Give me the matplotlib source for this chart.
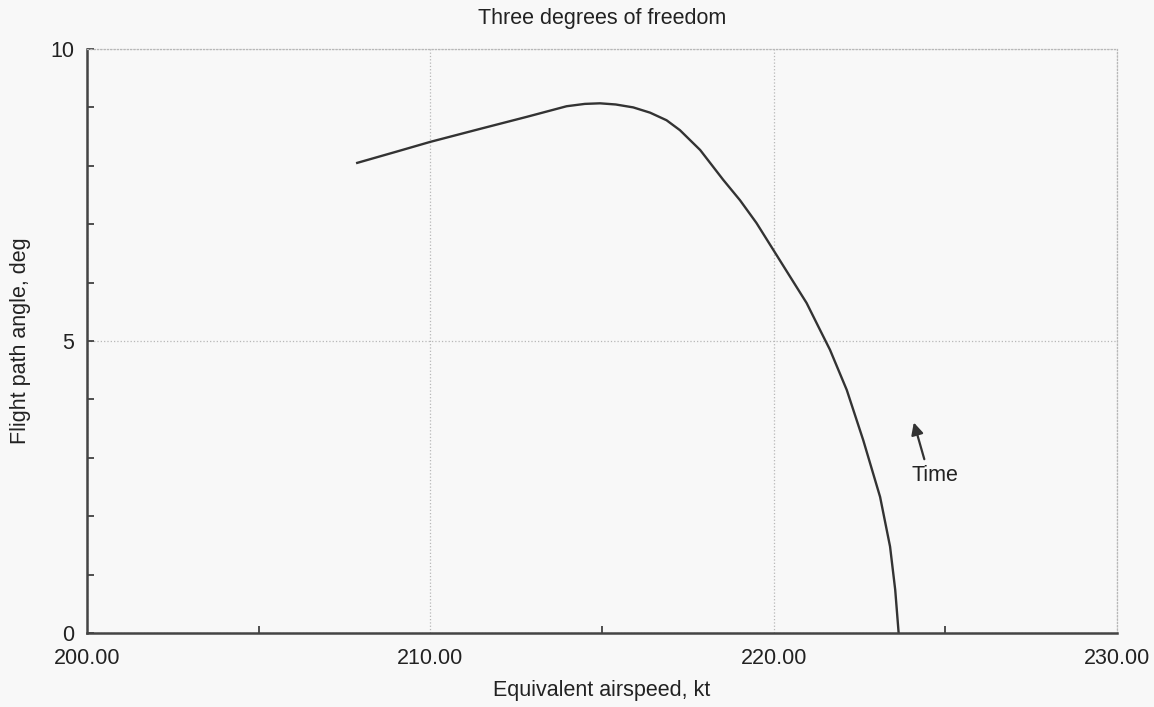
import numpy as np
import matplotlib
matplotlib.use("Agg")
import matplotlib.pyplot as plt
from matplotlib.ticker import MultipleLocator, FormatStrFormatter

plt.rcParams["font.family"] = ["Liberation Sans", "DejaVu Sans"]

# trajectory: equivalent airspeed (kt) vs flight path angle (deg)
airspeed = [207.87, 209.0, 210.0, 211.5, 212.82, 213.97, 214.5, 214.94, 215.4,
            215.91, 216.4, 216.88, 217.27, 217.86, 218.53, 219.02, 219.5,
            219.99, 220.48, 220.96, 221.35, 221.64, 222.13, 222.61, 223.1,
            223.39, 223.54, 223.64]
gamma = [8.05, 8.24, 8.41, 8.64, 8.84, 9.02, 9.06, 9.07, 9.05,
         9.0, 8.91, 8.78, 8.61, 8.27, 7.76, 7.41, 7.02,
         6.56, 6.1, 5.65, 5.19, 4.85, 4.16, 3.3, 2.33,
         1.48, 0.74, 0.0]

arrow_tail = (224.41, 2.93)
arrow_head = (224.06, 3.65)
time_label = (224.7, 2.69)

fig = plt.figure(figsize=(11.54, 7.07), dpi=100, facecolor="#f8f8f8")
ax = fig.add_axes([87 / 1154, 1 - 633 / 707, (1117 - 87) / 1154, (633 - 49) / 707])
ax.set_facecolor("#f8f8f8")

ax.plot(airspeed, gamma, color="#333333", lw=1.7, solid_joinstyle="round")

ax.annotate("", xy=arrow_head, xytext=arrow_tail,
            arrowprops=dict(arrowstyle="-|>", color="#333333", lw=1.6, mutation_scale=18))
ax.text(*time_label, "Time", fontsize=15.5, color="#222222", ha="center", va="center")

ax.set_xlim(200, 230)
ax.set_ylim(0, 10)
ax.xaxis.set_major_locator(MultipleLocator(10))
ax.xaxis.set_minor_locator(MultipleLocator(5))
ax.xaxis.set_major_formatter(FormatStrFormatter("%.2f"))
ax.yaxis.set_major_locator(MultipleLocator(5))
ax.yaxis.set_minor_locator(MultipleLocator(1))

ax.grid(True, which="major", ls=":", color="#b8b8b8", lw=0.9)
ax.tick_params(axis="x", which="major", length=0, pad=11, labelsize=15.5, labelcolor="#222222")
ax.tick_params(axis="x", which="minor", direction="in", length=5, width=1.2, color="#333333")
ax.tick_params(axis="y", which="both", direction="in", length=5, width=1.2, color="#333333",
               pad=9, labelsize=15.5, labelcolor="#222222")

for side in ["left", "bottom"]:
    ax.spines[side].set_color("#444444")
    ax.spines[side].set_linewidth(1.8)
for side in ["top", "right"]:
    ax.spines[side].set_color("#b8b8b8")
    ax.spines[side].set_linestyle(":")
    ax.spines[side].set_linewidth(0.9)

ax.set_title("Three degrees of freedom", fontsize=15.5, color="#222222", pad=18)
ax.set_xlabel("Equivalent airspeed, kt", fontsize=15.5, color="#222222", labelpad=8)
ax.set_ylabel("Flight path angle, deg", fontsize=15.5, color="#222222", labelpad=14)

fig.savefig("out.png", dpi=100, facecolor=fig.get_facecolor())
